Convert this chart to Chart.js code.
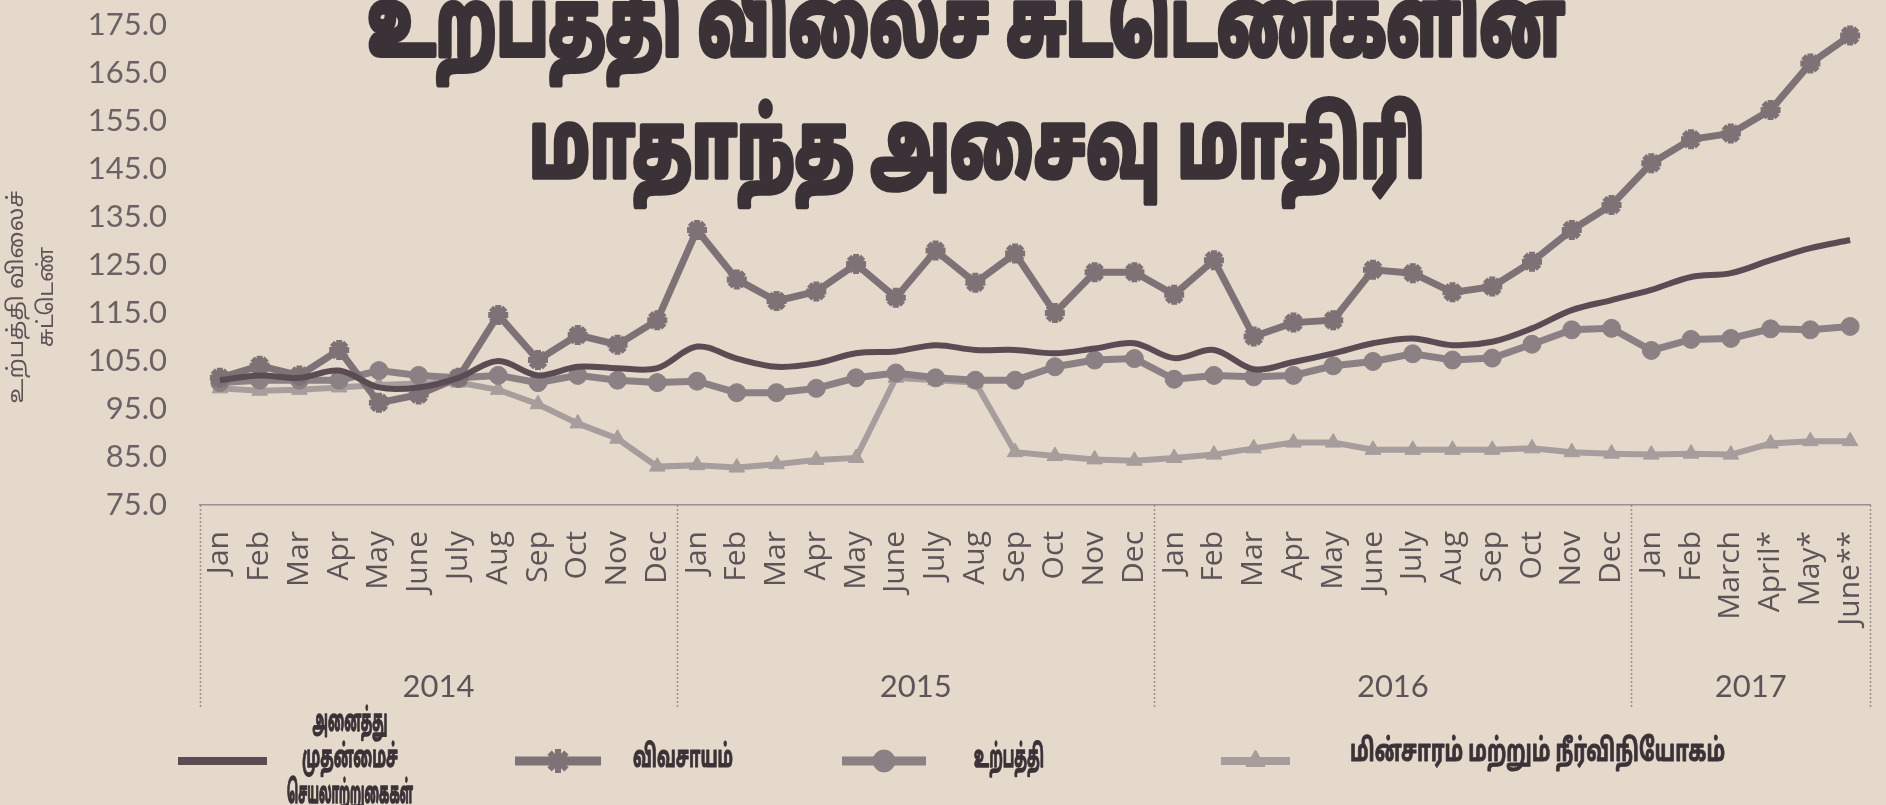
<!DOCTYPE html>
<html>
<head>
<meta charset="utf-8">
<script src="https://cdn.jsdelivr.net/npm/chart.js@4.4.1/dist/chart.umd.min.js"></script>
<style>
html,body{margin:0;padding:0;background:#e4d9cb;}
#wrap{width:1886px;height:805px;position:relative;overflow:hidden;}
canvas{display:block;}
</style>
</head>
<body>
<div id="wrap"><canvas id="c" width="1886" height="805"></canvas></div>
<script>
// ---------- data ----------
const monthLabels = [
  'Jan','Feb','Mar','Apr','May','June','July','Aug','Sep','Oct','Nov','Dec',
  'Jan','Feb','Mar','Apr','May','June','July','Aug','Sep','Oct','Nov','Dec',
  'Jan','Feb','Mar','Apr','May','June','July','Aug','Sep','Oct','Nov','Dec',
  'Jan','Feb','March','April*','May*','June**'
];
const yearLabels = ['2014','2015','2016','2017'];
const yearMonthCounts = [12, 12, 12, 6];

const seriesNames = [
  ['அனைத்து', 'முதன்மைச்', 'செயலாற்றுகைகள்'],
  ['விவசாயம்'],
  ['உற்பத்தி'],
  ['மின்சாரம் மற்றும் நீர்விநியோகம்']
];

const allPrimary = [
  101, 102, 101.5, 103, 99.5, 99.5, 101.5, 105, 102, 103.8, 103.5, 103.5,
  108, 105.5, 103.8, 104.5, 106.6, 107, 108.3, 107.3, 107.3, 106.6, 107.6, 108.7,
  105.6, 107.3, 103.3, 104.8, 106.6, 108.7, 109.7, 108.3, 109, 111.8, 115.6, 117.7,
  119.8, 122.5, 123.3, 126, 128.5, 130.2
];
const agriculture = [
  101.5, 104, 102, 107.3, 96.3, 98, 101.5, 114.6, 105.2, 110.4, 108.4, 113.5,
  132.3, 122, 117.5, 119.5, 125.2, 118.2, 128, 121.3, 127.4, 115, 123.5, 123.5,
  118.8, 126, 110.1, 113, 113.5, 124, 123.3, 119.3, 120.5, 125.7, 132.3, 137.5,
  146.2, 151.2, 152.4, 157.3, 167, 172.8
];
const manufacturing = [
  100.5, 101, 101, 101, 103, 102, 101.5, 102, 100.5, 102, 101, 100.5,
  100.8, 98.4, 98.4, 99.3, 101.5, 102.5, 101.5, 101, 101, 103.8, 105.2, 105.5,
  101.2, 102, 101.7, 102, 104, 104.9, 106.5, 105.2, 105.6, 108.5, 111.5, 111.8,
  107.2, 109.5, 109.7, 111.7, 111.5, 112.2
];
const electricity = [
  99.3, 98.8, 99, 99.5, 100, 100.3, 100.5, 99, 96, 92, 88.8, 83,
  83.3, 82.8, 83.5, 84.4, 84.8, 101.5, 101, 100.5, 86, 85.2, 84.5, 84.2,
  84.8, 85.5, 86.8, 88, 88, 86.5, 86.5, 86.5, 86.5, 86.8, 86, 85.7,
  85.5, 85.7, 85.5, 87.8, 88.3, 88.3
];
const yMin = 75, yMax = 175, yStep = 10;

const titleLines = ['உற்பத்தி விலைச் சுட்டெண்களின்', 'மாதாந்த அசைவு மாதிரி'];
const yTitleLines = ['உற்பத்தி விலைச்', 'சுட்டெண்'];

// ---------- styles ----------
const PAPER = '#e4d9cb';
const TEXT = '#5e5458';
const TAMIL = '"Noto Sans Tamil", "Noto Sans", "Lohit Tamil", sans-serif';
const NUMF = 'Lato, "Noto Sans", sans-serif';
const COL_ALL = '#5b4c54';
const COL_AGR = '#7e7276';
const COL_MAN = '#8b8083';
const COL_ELE = '#a69d9c';
const INK = '#3b3237';

const styles = [
  {color: COL_ALL, width: 6, pointStyle: false, radius: 0},
  {color: COL_AGR, width: 7, pointStyle: 'star', radius: 10, pbw: 6},
  {color: COL_MAN, width: 7, pointStyle: 'circle', radius: 9, pbw: 1},
  {color: COL_ELE, width: 6, pointStyle: 'triangle', radius: 9, pbw: 1}
];

const seriesData = [allPrimary, agriculture, manufacturing, electricity];

const datasets = seriesData.map((d, i) => {
  const s = styles[i];
  return {
    label: seriesNames[i].join(' '),
    data: d,
    borderColor: s.color,
    backgroundColor: s.color,
    borderWidth: s.width,
    pointStyle: s.pointStyle,
    pointRadius: s.radius,
    pointBorderWidth: s.pbw || 1,
    pointBackgroundColor: s.color,
    pointBorderColor: s.color,
    tension: i === 0 ? 0.35 : 0,
    fill: false,
    order: i
  };
});

// ---------- helpers ----------
function drawFitted(ctx, text, x, y, font, targetW, align, stroke) {
  ctx.save();
  ctx.font = font;
  const w = ctx.measureText(text).width;
  const sx = targetW / w;
  ctx.translate(x, y);
  ctx.scale(sx, 1);
  ctx.textAlign = align;
  if (stroke) {
    ctx.lineJoin = 'round';
    ctx.lineWidth = stroke / sx;
    ctx.strokeStyle = ctx.fillStyle;
    ctx.strokeText(text, 0, 0);
  }
  ctx.fillText(text, 0, 0);
  ctx.restore();
}

// ---------- plugins ----------
const paperPlugin = {
  id: 'paper',
  beforeDraw(chart) {
    const ctx = chart.ctx;
    ctx.save();
    ctx.fillStyle = PAPER;
    ctx.fillRect(0, 0, chart.width, chart.height);
    ctx.restore();
  }
};

const decorPlugin = {
  id: 'decor',
  afterDraw(chart) {
    const ctx = chart.ctx;
    const xs = chart.scales.x;
    const area = chart.chartArea;
    ctx.save();

    // year group dividers + labels
    ctx.strokeStyle = '#9a9090';
    ctx.lineWidth = 1.5;
    let start = 0;
    const bounds = [];
    yearMonthCounts.forEach((n, gi) => {
      const end = start + n - 1;
      const left = start === 0 ? area.left : (xs.getPixelForValue(start - 1) + xs.getPixelForValue(start)) / 2;
      const right = end === monthLabels.length - 1 ? area.right : (xs.getPixelForValue(end) + xs.getPixelForValue(end + 1)) / 2;
      bounds.push(left);
      if (gi === yearMonthCounts.length - 1) bounds.push(right);
      const cx = (xs.getPixelForValue(start) + xs.getPixelForValue(end)) / 2;
      ctx.fillStyle = TEXT;
      ctx.font = '31px ' + NUMF;
      ctx.textAlign = 'center';
      ctx.textBaseline = 'middle';
      ctx.fillText(yearLabels[gi], cx, area.bottom + 182);
      start += n;
    });
    ctx.setLineDash([2, 2]);
    bounds.forEach(bx => {
      ctx.beginPath();
      ctx.moveTo(Math.round(bx) + 0.5, area.bottom);
      ctx.lineTo(Math.round(bx) + 0.5, area.bottom + 203);
      ctx.stroke();
    });
    ctx.setLineDash([]);

    // title
    ctx.fillStyle = INK;
    ctx.textBaseline = 'alphabetic';
    const tf = 'bold 92px ' + TAMIL;
    drawFitted(ctx, titleLines[0], 966, 55, tf, 1197, 'center', 4);
    drawFitted(ctx, titleLines[1], 977, 177, tf, 896, 'center', 4);

    // y axis title
    ctx.save();
    ctx.fillStyle = TEXT;
    ctx.textBaseline = 'middle';
    ctx.translate(0, 297);
    ctx.rotate(-Math.PI / 2);
    drawFitted(ctx, yTitleLines[0], 0, 19, '22px ' + TAMIL, 213, 'center', 0);
    drawFitted(ctx, yTitleLines[1], 0, 49, '22px ' + TAMIL, 100, 'center', 0);
    ctx.restore();

    // legend
    const legendY = 761;
    const items = [
      {x0: 178, x1: 267, tx: 350, align: 'center', widths: [75, 96, 126]},
      {x0: 515, x1: 601, tx: 633, align: 'left', widths: [100]},
      {x0: 842, x1: 926, tx: 974, align: 'left', widths: [70]},
      {x0: 1221, x1: 1290, tx: 1350, align: 'left', widths: [375]}
    ];
    items.forEach((it, i) => {
      const s = styles[i];
      ctx.strokeStyle = s.color;
      ctx.fillStyle = s.color;
      ctx.lineWidth = s.width + 2;
      ctx.beginPath();
      ctx.moveTo(it.x0, legendY);
      ctx.lineTo(it.x1, legendY);
      ctx.stroke();
      if (s.pointStyle) {
        ctx.lineWidth = s.pbw || 1;
        Chart.helpers.drawPoint(ctx, {pointStyle: s.pointStyle, radius: s.radius + 2, rotation: 0, borderWidth: s.pbw || 1}, (it.x0 + it.x1) / 2, legendY);
      }
      ctx.fillStyle = INK;
      ctx.textBaseline = 'middle';
      const lines = seriesNames[i];
      const lh = 36;
      const y0 = (i === 3 ? legendY - 6 : legendY) - (lines.length - 1) * lh / 2;
      lines.forEach((t, li) => drawFitted(ctx, t, it.tx, y0 + li * lh, 'bold 31px ' + TAMIL, it.widths[li], it.align, 0.6));
    });

    ctx.restore();
  }
};

const yTicks = [];
for (let v = yMin; v <= yMax; v += yStep) yTicks.push(v);

new Chart(document.getElementById('c'), {
  type: 'line',
  data: {labels: monthLabels, datasets},
  options: {
    responsive: false,
    animation: false,
    devicePixelRatio: 1,
    layout: {padding: {top: 25, right: 13, left: 0, bottom: 0}},
    plugins: {legend: {display: false}, tooltip: {enabled: false}, title: {display: false}},
    scales: {
      x: {
        type: 'category',
        offset: true,
        grid: {display: false, drawTicks: false},
        border: {display: true, color: '#9a9090', width: 1.5, dash: [2, 2]},
        ticks: {
          autoSkip: false, maxRotation: 90, minRotation: 90, padding: 26,
          color: TEXT, font: {family: '"Open Sans", sans-serif', size: 30}
        },
        afterFit(scale) {
          scale.height = 300;
          scale.paddingLeft = 0; scale.paddingRight = 0;
          scale.paddingTop = 0; scale.paddingBottom = 0;
        }
      },
      y: {
        min: yMin, max: yMax,
        grid: {display: false, drawTicks: false},
        border: {display: false},
        afterBuildTicks(scale) { scale.ticks = yTicks.map(v => ({value: v})); },
        ticks: {
          padding: 33, color: '#6c6266',
          font: {family: NUMF, size: 31},
          callback: v => Number(v).toFixed(1)
        },
        afterFit(scale) {
          scale.width = 200;
          scale.paddingTop = 0; scale.paddingBottom = 0;
          scale.paddingLeft = 0; scale.paddingRight = 0;
        }
      }
    }
  },
  plugins: [paperPlugin, decorPlugin]
});
</script>
</body>
</html>
